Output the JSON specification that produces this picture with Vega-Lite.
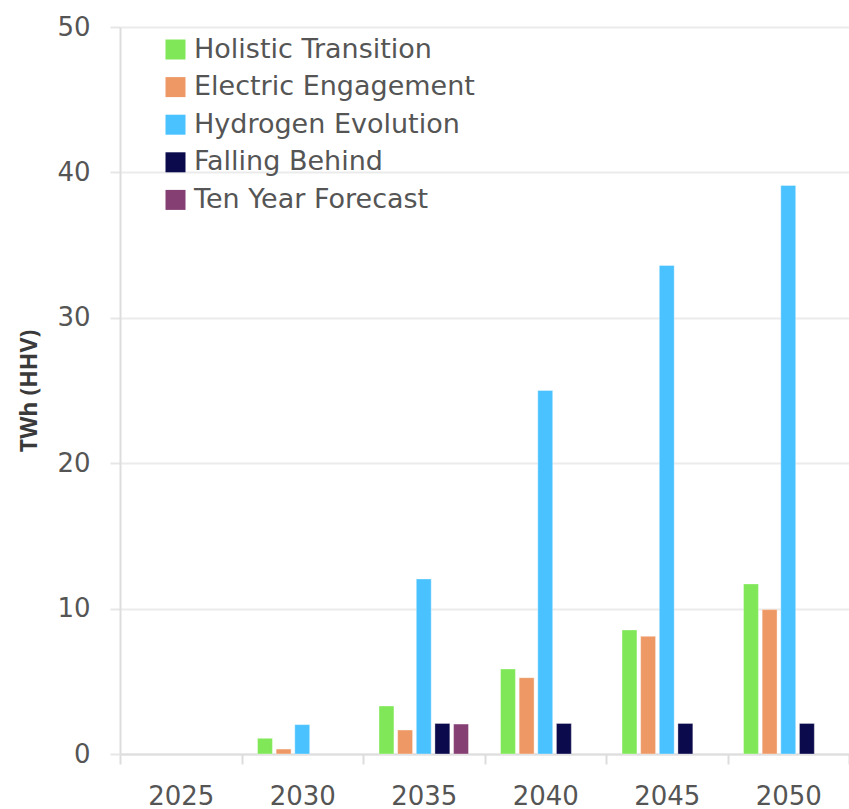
{
  "$schema": "https://vega.github.io/schema/vega-lite/v6.json",
  "autosize": {"type": "none"},
  "padding": {"left": 120, "top": 27, "right": 0, "bottom": 55},
  "width": 729,
  "height": 727,
  "background": "white",
  "config": {
    "font": "DejaVu Sans",
    "view": {"stroke": null}
  },
  "data": {
    "values": [
      {"year": "2030", "scenario": "Holistic Transition", "twh": 1.08},
      {"year": "2030", "scenario": "Electric Engagement", "twh": 0.34},
      {"year": "2030", "scenario": "Hydrogen Evolution", "twh": 2.02},
      {"year": "2035", "scenario": "Holistic Transition", "twh": 3.3},
      {"year": "2035", "scenario": "Electric Engagement", "twh": 1.65},
      {"year": "2035", "scenario": "Hydrogen Evolution", "twh": 12.04},
      {"year": "2035", "scenario": "Falling Behind", "twh": 2.1},
      {"year": "2035", "scenario": "Ten Year Forecast", "twh": 2.06},
      {"year": "2040", "scenario": "Holistic Transition", "twh": 5.85},
      {"year": "2040", "scenario": "Electric Engagement", "twh": 5.25},
      {"year": "2040", "scenario": "Hydrogen Evolution", "twh": 25.0},
      {"year": "2040", "scenario": "Falling Behind", "twh": 2.1},
      {"year": "2045", "scenario": "Holistic Transition", "twh": 8.53},
      {"year": "2045", "scenario": "Electric Engagement", "twh": 8.09},
      {"year": "2045", "scenario": "Hydrogen Evolution", "twh": 33.6},
      {"year": "2045", "scenario": "Falling Behind", "twh": 2.1},
      {"year": "2050", "scenario": "Holistic Transition", "twh": 11.7},
      {"year": "2050", "scenario": "Electric Engagement", "twh": 9.93},
      {"year": "2050", "scenario": "Hydrogen Evolution", "twh": 39.1},
      {"year": "2050", "scenario": "Falling Behind", "twh": 2.1}
    ]
  },
  "mark": {"type": "bar", "stroke": "white", "strokeWidth": 0.6, "strokeOpacity": 0.6},
  "encoding": {
    "x": {
      "field": "year",
      "type": "nominal",
      "scale": {"domain": ["2025", "2030", "2035", "2040", "2045", "2050"], "paddingInner": 0, "paddingOuter": 0},
      "axis": {
        "title": null,
        "labelAngle": 0,
        "labelFont": "DejaVu Sans",
        "labelFontSize": 26,
        "labelColor": "#555555",
        "labelPadding": 19,
        "tickBand": "extent",
        "tickSize": 10,
        "tickColor": "#dddddd",
        "tickWidth": 2,
        "domainColor": "#dddddd",
        "domainWidth": 2
      }
    },
    "xOffset": {
      "field": "scenario",
      "type": "nominal",
      "scale": {
        "domain": ["Holistic Transition", "Electric Engagement", "Hydrogen Evolution", "Falling Behind", "Ten Year Forecast"],
        "paddingInner": 0.2,
        "paddingOuter": 0.86
      }
    },
    "y": {
      "field": "twh",
      "type": "quantitative",
      "scale": {"domain": [0, 50], "nice": false},
      "axis": {
        "title": "TWh (HHV)",
        "titleFont": "Open Sans",
        "titleFontSize": 23,
        "titleFontWeight": "bold",
        "titleColor": "#3a3a3a",
        "titlePadding": 15,
        "values": [0, 10, 20, 30, 40, 50],
        "labelFont": "DejaVu Sans",
        "labelFontSize": 26,
        "labelColor": "#555555",
        "labelPadding": 20,
        "tickSize": 10,
        "tickColor": "#e6e6e6",
        "tickWidth": 2,
        "gridColor": "#ebebeb",
        "gridWidth": 2,
        "domainColor": "#dddddd",
        "domainWidth": 2
      }
    },
    "color": {
      "field": "scenario",
      "type": "nominal",
      "scale": {
        "domain": ["Holistic Transition", "Electric Engagement", "Hydrogen Evolution", "Falling Behind", "Ten Year Forecast"],
        "range": ["#80E858", "#EE9965", "#4AC2FF", "#0A0A4C", "#853F72"]
      },
      "legend": {
        "title": null,
        "orient": "none",
        "legendX": 42,
        "legendY": 9,
        "symbolType": "square",
        "symbolSize": 400,
        "symbolStrokeWidth": 0,
        "labelFont": "DejaVu Sans",
        "labelFontSize": 27,
        "labelColor": "#555555",
        "labelOffset": 5,
        "labelLimit": 500,
        "rowPadding": 9.6
      }
    }
  }
}
